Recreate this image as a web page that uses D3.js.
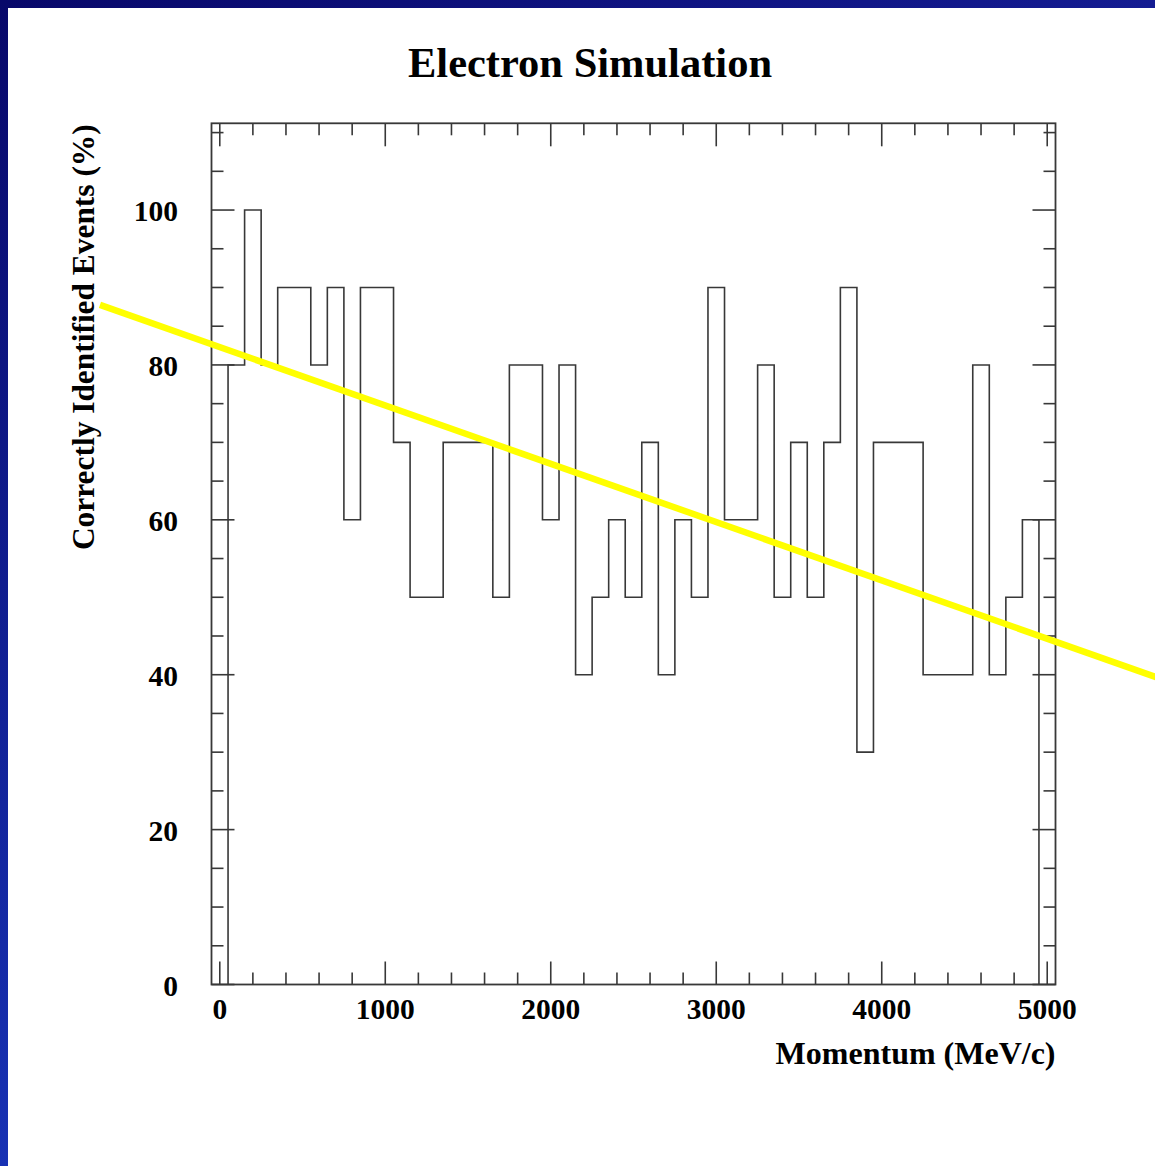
<!DOCTYPE html>
<html>
<head>
<meta charset="utf-8">
<script src="https://cdn.jsdelivr.net/npm/d3@7"></script>
<style>
  html, body { margin: 0; padding: 0; background: #ffffff; }
  svg { display: block; }
  text { font-family: "Liberation Serif", "Times New Roman", Times, serif; font-weight: bold; fill: #000; }
</style>
</head>
<body>
<script>
// Histogram: efficiency per 100 MeV/c momentum bin (bin centres 100 .. 4900)
const binCenters = [100, 200, 300, 400, 500, 600, 700, 800, 900, 1000,
  1100, 1200, 1300, 1400, 1500, 1600, 1700, 1800, 1900, 2000,
  2100, 2200, 2300, 2400, 2500, 2600, 2700, 2800, 2900, 3000,
  3100, 3200, 3300, 3400, 3500, 3600, 3700, 3800, 3900, 4000,
  4100, 4200, 4300, 4400, 4500, 4600, 4700, 4800, 4900];
const efficiency = [80, 100, 80, 90, 90, 80, 90, 60, 90, 90,
  70, 50, 50, 70, 70, 70, 50, 80, 80, 60,
  80, 40, 50, 60, 50, 70, 40, 60, 50, 90,
  60, 60, 80, 50, 70, 50, 70, 90, 30, 70,
  70, 70, 40, 40, 40, 80, 40, 50, 60];
const binWidth = 100;

// Linear fit drawn over the histogram: y = p0 + p1 * x
const fitP0 = 82.3;
const fitP1 = -0.00753;
const fitRange = [-724, 5800];

// Axes
const xDomain = [-50, 5050];
const yDomain = [0, 111.2];
const xMajorTicks = [0, 1000, 2000, 3000, 4000, 5000];
const xMinorTicks = [200, 400, 600, 800, 1200, 1400, 1600, 1800, 2200, 2400, 2600, 2800,
  3200, 3400, 3600, 3800, 4200, 4400, 4600, 4800];
const yMajorTicks = [0, 20, 40, 60, 80, 100];
const yMinorTicks = [5, 10, 15, 25, 30, 35, 45, 50, 55, 65, 70, 75, 85, 90, 95, 105, 110];

const titleText = "Electron Simulation";
const xLabel = "Momentum (MeV/c)";
const yLabel = "Correctly Identified Events (%)";

const W = 1155, H = 1166;
const frame = { left: 211.5, right: 1055.5, top: 123.3, bottom: 984.5 };
const ink = "#383838";

const svg = d3.select("body").append("svg")
  .attr("width", W).attr("height", H);

// Slide background: blue band on top and left edges
const defs = svg.append("defs");
const gTop = defs.append("linearGradient").attr("id", "bandTop")
  .attr("x1", 0).attr("y1", 0).attr("x2", 1).attr("y2", 0);
gTop.append("stop").attr("offset", 0).attr("stop-color", "#08086a");
gTop.append("stop").attr("offset", 1).attr("stop-color", "#141c92");
const gLeft = defs.append("linearGradient").attr("id", "bandLeft")
  .attr("x1", 0).attr("y1", 0).attr("x2", 0).attr("y2", 1);
gLeft.append("stop").attr("offset", 0).attr("stop-color", "#08086a");
gLeft.append("stop").attr("offset", 1).attr("stop-color", "#1832b4");

svg.append("rect").attr("x", 0).attr("y", 0).attr("width", W).attr("height", H).attr("fill", "#fff");
svg.append("rect").attr("x", 0).attr("y", 0).attr("width", W).attr("height", 8).attr("fill", "url(#bandTop)");
svg.append("rect").attr("x", 0).attr("y", 0).attr("width", 8).attr("height", H).attr("fill", "url(#bandLeft)");

const x = d3.scaleLinear().domain(xDomain).range([frame.left, frame.right]);
const y = d3.scaleLinear().domain(yDomain).range([frame.bottom, frame.top]);

// Histogram outline, closed down to zero at both ends of the range
const pts = [];
pts.push([binCenters[0] - binWidth / 2, 0]);
binCenters.forEach((c, i) => {
  pts.push([c - binWidth / 2, efficiency[i]]);
  pts.push([c + binWidth / 2, efficiency[i]]);
});
pts.push([binCenters[binCenters.length - 1] + binWidth / 2, 0]);

const line = d3.line().x(d => x(d[0])).y(d => y(d[1]));
svg.append("path")
  .attr("d", line(pts))
  .attr("fill", "none")
  .attr("stroke", ink)
  .attr("stroke-width", 1.6);

// Frame
svg.append("rect")
  .attr("x", frame.left).attr("y", frame.top)
  .attr("width", frame.right - frame.left).attr("height", frame.bottom - frame.top)
  .attr("fill", "none").attr("stroke", ink).attr("stroke-width", 1.8);

// Ticks on all four sides, pointing inward
const majorLen = 23, minorLen = 12;
const tickG = svg.append("g").attr("stroke", ink).attr("stroke-width", 1.6);
function xTicks(vals, len) {
  vals.forEach(v => {
    tickG.append("line").attr("x1", x(v)).attr("x2", x(v)).attr("y1", frame.bottom).attr("y2", frame.bottom - len);
    tickG.append("line").attr("x1", x(v)).attr("x2", x(v)).attr("y1", frame.top).attr("y2", frame.top + len);
  });
}
function yTicks(vals, len) {
  vals.forEach(v => {
    tickG.append("line").attr("y1", y(v)).attr("y2", y(v)).attr("x1", frame.left).attr("x2", frame.left + len);
    tickG.append("line").attr("y1", y(v)).attr("y2", y(v)).attr("x1", frame.right).attr("x2", frame.right - len);
  });
}
xTicks(xMajorTicks, majorLen);
xTicks(xMinorTicks, minorLen);
yTicks(yMajorTicks, majorLen);
yTicks(yMinorTicks, minorLen);

// Tick labels
svg.append("g").selectAll("text").data(xMajorTicks).join("text")
  .attr("x", d => x(d)).attr("y", 1019)
  .attr("text-anchor", "middle")
  .attr("font-size", 29.5)
  .text(d => d);
svg.append("g").selectAll("text").data(yMajorTicks).join("text")
  .attr("x", 178).attr("y", d => y(d) + 11)
  .attr("text-anchor", "end")
  .attr("font-size", 29.5)
  .text(d => d);

// Title and axis titles
svg.append("text").attr("x", 590).attr("y", 77)
  .attr("text-anchor", "middle").attr("font-size", 42.5).text(titleText);
svg.append("text").attr("x", frame.right).attr("y", 1064)
  .attr("text-anchor", "end").attr("font-size", 32).text(xLabel);
svg.append("text")
  .attr("transform", `translate(94,${frame.top + 1}) rotate(-90)`)
  .attr("text-anchor", "end").attr("font-size", 31.4).text(yLabel);

// Fit line
svg.append("line")
  .attr("x1", x(fitRange[0])).attr("y1", y(fitP0 + fitP1 * fitRange[0]))
  .attr("x2", x(fitRange[1])).attr("y2", y(fitP0 + fitP1 * fitRange[1]))
  .attr("stroke", "#ffff00").attr("stroke-width", 6.5);
</script>
</body>
</html>
